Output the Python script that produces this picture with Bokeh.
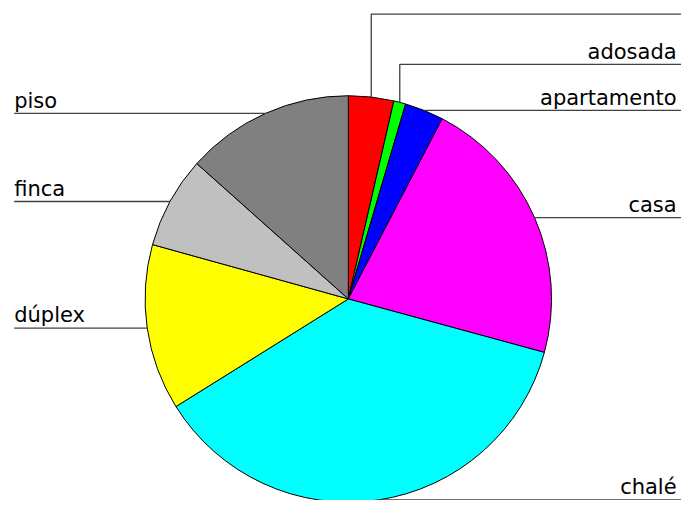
import math
from bokeh.plotting import figure
from bokeh.models import ColumnDataSource
from bokeh.core.properties import value
from bokeh.embed import file_html
from bokeh.resources import INLINE

# ---- data (percent of total, clockwise from 12 o'clock)
categories = ["", "adosada", "apartamento", "casa", "chalé", "dúplex", "finca", "piso"]
shares = [3.6, 0.95, 3.1, 21.6, 36.9, 13.2, 7.3, 13.4]
colors = ["#ff0000", "#00ff00", "#0000ff", "#ff00ff", "#00ffff", "#ffff00", "#c0c0c0", "#808080"]

# ---- layout (reference pixel space, y measured from top)
W_REF, H_REF = 697, 516
CX, CY, R = 356, 308, 208
elbow_top = {0: 14, 1: 66}      # slices whose leader goes straight up first
RIGHT_END, LEFT_END = 697, 14
LABEL_RIGHT_X, LABEL_LEFT_X = 692, 14
LABEL_GAP = 13

FIG_W, FIG_H = 681, 500
sx = FIG_W / W_REF
sy = FIG_H / H_REF
RY = R * sx / sy  # keep circle round on screen

def Y(y_ref):
    return H_REF - y_ref

total = sum(shares)
starts, ends, mids = [], [], []
cum = 0.0
for s in shares:
    a0 = cum / total * 2 * math.pi
    cum += s
    a1 = cum / total * 2 * math.pi
    starts.append(math.pi / 2 - a0)
    ends.append(math.pi / 2 - a1)
    mids.append((a0 + a1) / 2)  # clockwise from top

p = figure(width=FIG_W, height=FIG_H, x_range=(0, W_REF), y_range=(0, H_REF),
           output_backend="svg", toolbar_location=None, min_border=0)
p.axis.visible = False
p.grid.visible = False
p.outline_line_color = None
p.background_fill_color = "white"

src = ColumnDataSource(dict(x=[CX] * len(shares), y=[Y(CY)] * len(shares),
                            start=starts, end=ends, color=colors, cat=categories))
p.wedge(x="x", y="y", radius=R, start_angle="start", end_angle="end",
        direction="clock", fill_color="color", line_color="black", line_width=1,
        source=src)

xs, ys = [], []
lx, ly, lt, align = [], [], [], []
for i, m in enumerate(mids):
    ax = CX + R * math.sin(m)
    ay = CY - RY * math.cos(m)
    right = m < math.pi
    if i in elbow_top:
        yt = elbow_top[i]
        xs.append([ax, ax, RIGHT_END])
        ys.append([Y(ay), Y(yt), Y(yt)])
        line_y = yt
    else:
        xs.append([ax, RIGHT_END if right else LEFT_END])
        ys.append([Y(ay), Y(ay)])
        line_y = ay
    if categories[i]:
        lx.append(LABEL_RIGHT_X if right else LABEL_LEFT_X)
        ly.append(Y(line_y - LABEL_GAP))
        lt.append(categories[i])
        align.append("right" if right else "left")

p.multi_line(xs=xs, ys=ys, line_color="#404040", line_width=1.3)

p.text(x=lx, y=ly, text=lt, text_align=align, text_baseline="alphabetic",
       text_font=value("DejaVu Sans"), text_font_size="21px", text_color="black")

open("out.html", "w").write(file_html(p, INLINE))
